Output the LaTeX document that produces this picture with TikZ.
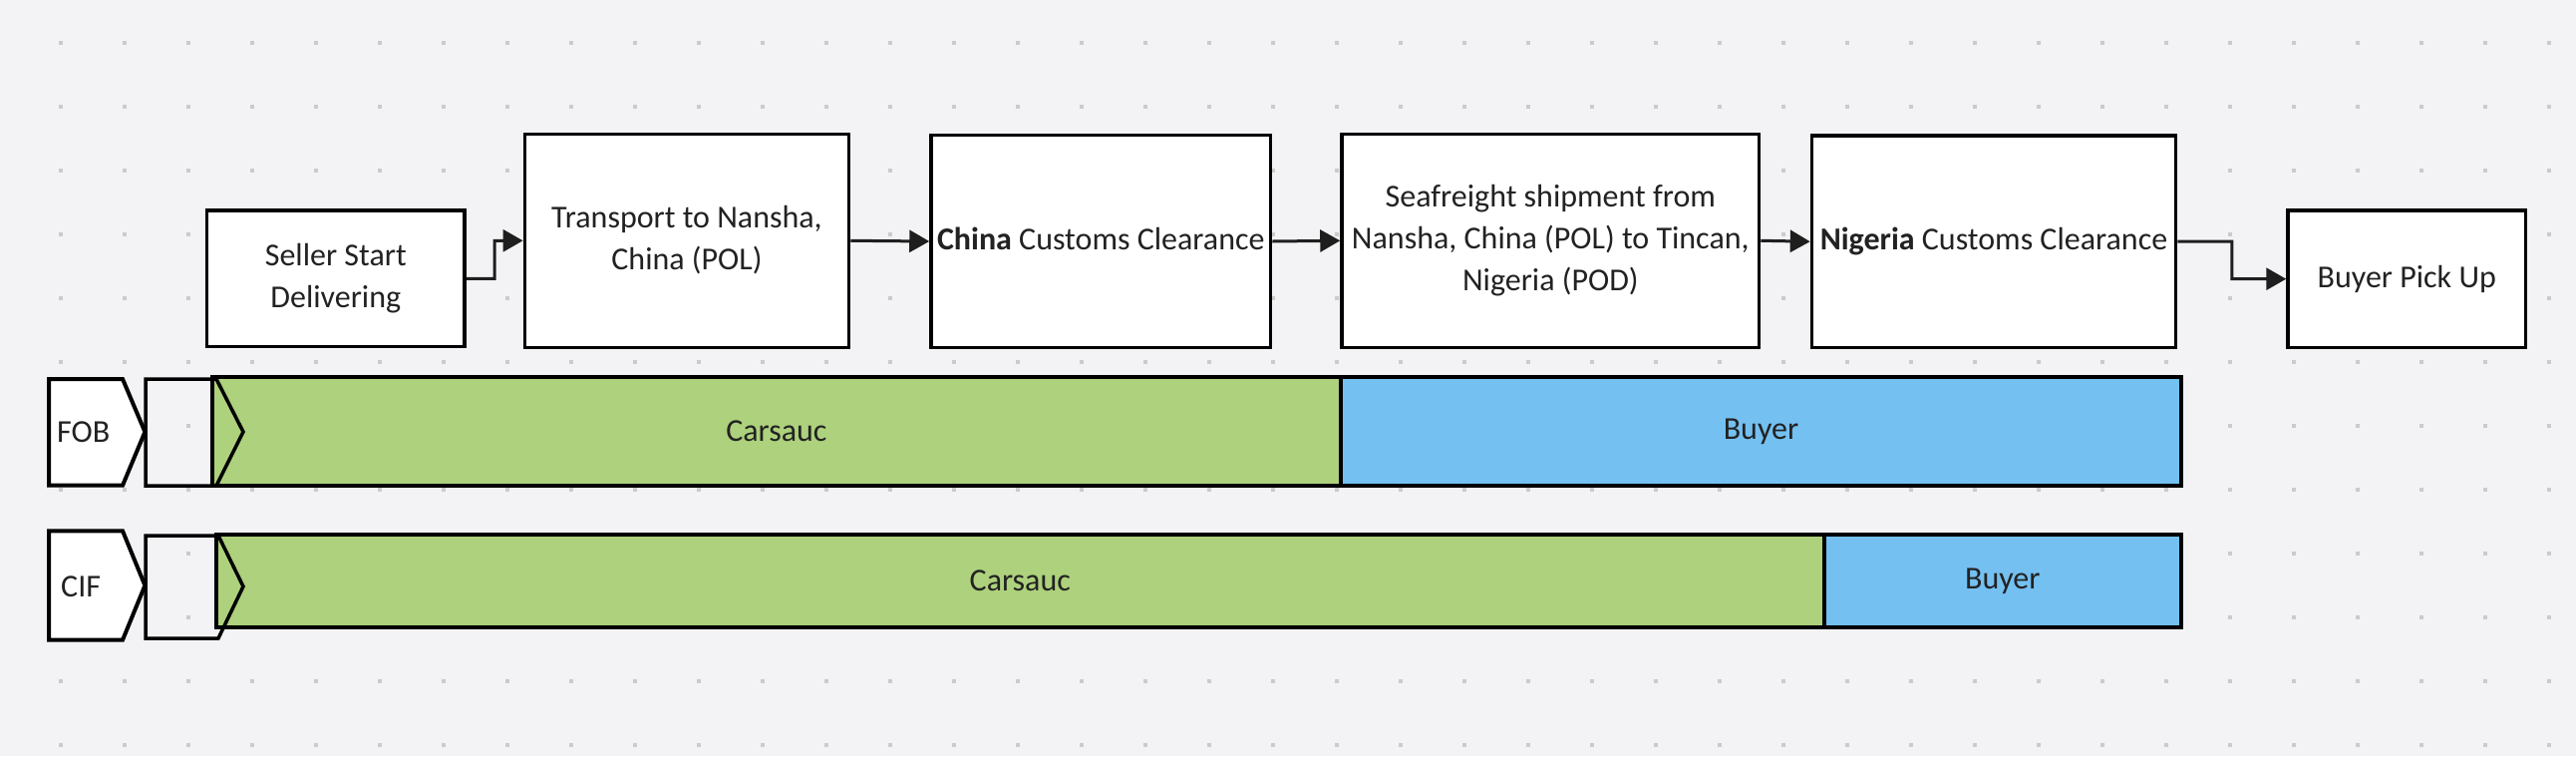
\documentclass[tikz,border=0pt]{standalone}
\usepackage{fontspec}
\setmainfont{Carlito}
\usetikzlibrary{arrows.meta,calc}
\definecolor{bgc}{HTML}{F3F3F5}
\definecolor{dotc}{HTML}{CBCBCB}
\definecolor{txtc}{HTML}{222222}
\definecolor{greenc}{HTML}{ADD17C}
\definecolor{bluec}{HTML}{74C0F1}
\definecolor{linec}{HTML}{1E1E1E}
\newcommand\boxtext[1]{\raisebox{-3pt}{\begin{tabular}{@{}c@{}}#1\end{tabular}}}
\tikzset{
  procbox/.style={draw=black, line width=3.5pt, fill=white, text=txtc,
    font=\fontsize{32}{42}\selectfont, inner sep=0pt},
  barbox/.style={draw=black, line width=4pt, text=txtc, font=\fontsize{32}{42}\selectfont, inner sep=0pt},
  tagshape/.style={draw=black, line width=4pt, fill=white, line join=miter},
  chev/.style={draw=black, line width=3.5pt, line join=miter},
  arr/.style={draw=linec, line width=3pt, -{Triangle[length=20pt,width=22pt]}},
  lbl/.style={text=txtc, font=\fontsize{32}{42}\selectfont, inner sep=0pt, anchor=west}
}
\begin{document}
\begin{tikzpicture}[x=1pt,y=-1pt]
\fill[bgc] (0,0) rectangle (2584,758);
\useasboundingbox (0,0) rectangle (2584,758);
\foreach \i in {0,...,39}{
  \foreach \j in {0,...,11}{
    \fill[dotc] ({61+64*\i-2},{42.7+64*\j-2}) rectangle ++(4,4);
  }
}
% process boxes
\node[procbox, minimum width=258.4pt, minimum height=136.7pt] (seller) at (336.8,279.3) {\boxtext{Seller Start\\Delivering}};
\node[procbox, minimum width=325.3pt, minimum height=214pt] (transport) at (689,241.3) {\boxtext{Transport to Nansha,\\China (POL)}};
\node[procbox, minimum width=340.6pt, minimum height=212.6pt] (china) at (1104.3,242) {\boxtext{\textbf{China} Customs Clearance}};
\node[procbox, minimum width=418.7pt, minimum height=214pt] (sea) at (1555.35,241.3) {\boxtext{Seafreight shipment from\\Nansha, China (POL) to Tincan,\\Nigeria (POD)}};
\node[procbox, minimum width=365pt, minimum height=212.3pt] (nigeria) at (2000,242.2) {\boxtext{\textbf{Nigeria} Customs Clearance}};
\node[procbox, minimum width=238.5pt, minimum height=137.3pt] (pickup) at (2414.25,279.7) {\boxtext{Buyer Pick Up}};
% connectors
\draw[arr] (seller.east) -- ($(seller.east)!0.5!(seller.east -| transport.west)$) |- (transport.west);
\draw[arr] (transport.east) -- (china.west);
\draw[arr] (china.east) -- (sea.west);
\draw[arr] (sea.east) -- (nigeria.west);
\draw[arr] (nigeria.east) -- ($(nigeria.east)!0.5!(nigeria.east -| pickup.west)$) |- (pickup.west);
% FOB row
\draw[tagshape] (49,380) -- (123,380) -- (145.4,433) -- (123,486.7) -- (49,486.7) -- cycle;
\node[lbl] (foblbl) at (57,433) {FOB};
\node[barbox, fill=greenc, minimum width=1132.3pt, minimum height=109.3pt] (fobseller) at (778.85,432.65) {Carsauc};
\node[barbox, fill=bluec, minimum width=843pt, minimum height=109.3pt] (fobbuyer) at (1766.5,432.65) {Buyer};
\draw[chev] (146,380) -- (217,380) -- (244,433) -- (217,487) -- (146,487) -- cycle;
% CIF row
\draw[tagshape] (49,532.3) -- (123,532.3) -- (145.4,587) -- (123,641.7) -- (49,641.7) -- cycle;
\node[lbl] (ciflbl) at (61,588) {CIF};
\node[barbox, fill=greenc, minimum width=1612.6pt, minimum height=92.7pt] (cifseller) at (1023.3,582.35) {\raisebox{-2pt}{Carsauc}};
\node[barbox, fill=bluec, minimum width=358.4pt, minimum height=92.7pt] (cifbuyer) at (2008.8,582.35) {\raisebox{-2pt}{Buyer}};
\draw[chev] (146,537) -- (219,537) -- (244,588) -- (219,640) -- (146,640) -- cycle;
\end{tikzpicture}
\end{document}
